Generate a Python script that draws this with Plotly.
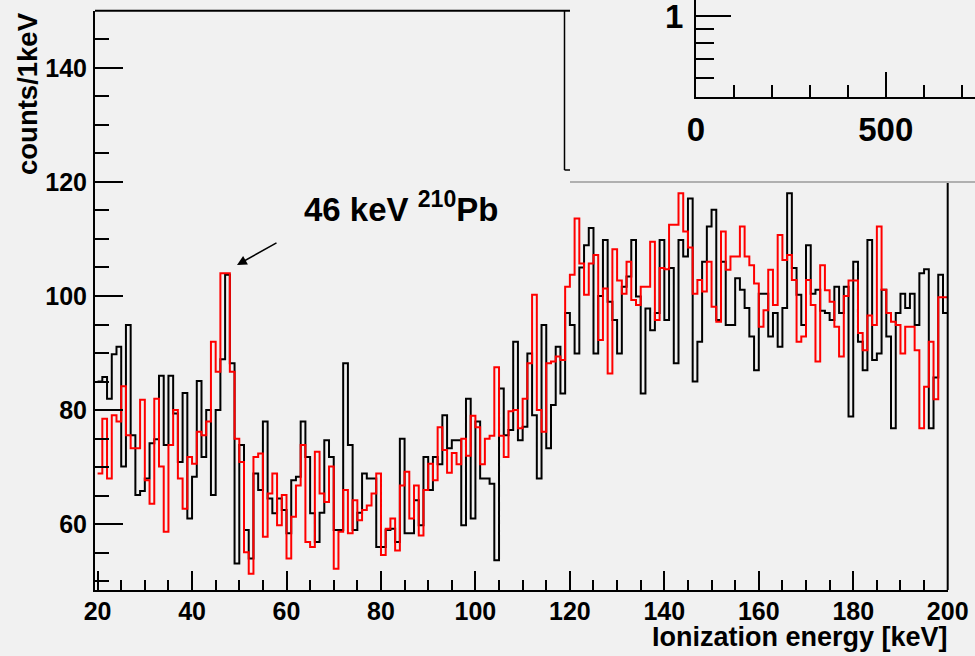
import plotly.graph_objects as go

# ---------------- data (1 keV bins, left edges 20..199) ----------------
bin_left = list(range(20, 200))
bin_width = 1

black_counts = [
    85.0, 85.8, 82.0, 89.8, 91.1, 70.1, 94.9, 75.6, 65.1, 65.8,   # 20-29
    68.0, 74.2, 74.9, 86.0, 73.9, 86.0, 79.4, 70.9, 83.0, 61.0,   # 30-39
    68.3, 85.1, 71.8, 80.0, 65.1, 80.0, 88.9, 103.7, 88.2, 53.1,  # 40-49
    73.9, 59.0, 54.0, 68.9, 66.0, 78.0, 64.5, 61.9, 64.5, 62.5,   # 50-59
    58.4, 67.7, 68.3, 78.0, 71.8, 61.9, 56.9, 62.0, 74.7, 71.8,   # 60-69
    59.0, 59.0, 88.2, 73.9, 59.0, 62.0, 68.9, 68.0, 68.0, 56.0,   # 70-79
    56.0, 59.0, 59.2, 56.9, 75.0, 58.4, 58.4, 64.2, 59.8, 71.8,   # 80-89
    66.0, 71.8, 70.5, 79.1, 73.3, 74.7, 74.7, 59.8, 82.0, 61.0,   # 90-99
    78.0, 68.0, 68.0, 67.1, 53.7, 83.8, 75.6, 76.5, 92.0, 74.7,   # 100-109
    77.1, 89.9, 79.1, 68.0, 94.9, 73.3, 80.9, 91.1, 82.9, 97.0,   # 110-119
    94.9, 89.9, 105.0, 108.9, 111.9, 89.9, 100.0, 109.8, 99.0, 95.8,  # 120-129
    89.9, 101.6, 103.4, 109.8, 99.9, 82.9, 97.8, 94.0, 97.0, 109.8,   # 130-139
    95.8, 104.9, 88.2, 109.8, 106.9, 117.1, 85.0, 92.0, 106.0, 112.2, # 140-149
    115.1, 95.8, 106.0, 94.9, 94.9, 103.1, 101.1, 97.9, 92.9, 87.0,   # 150-159
    100.4, 100.4, 92.9, 97.0, 91.1, 97.9, 118.0, 104.9, 100.2, 94.9,  # 160-169
    108.9, 100.4, 101.1, 97.4, 97.0, 95.8, 101.6, 97.0, 101.6, 78.9,  # 170-179
    106.0, 92.0, 87.0, 109.8, 88.8, 89.9, 101.1, 92.9, 76.8, 97.0,    # 180-189
    100.4, 97.9, 100.4, 94.9, 104.0, 104.7, 76.8, 85.7, 103.7, 97.0,  # 190-199
]

red_counts = [
    68.9, 78.5, 68.0, 79.1, 78.0, 84.2, 75.6, 73.3, 73.3, 81.8,   # 20-29
    67.7, 63.6, 82.0, 70.1, 58.7, 73.9, 80.0, 68.0, 62.7, 71.8,   # 30-39
    70.6, 76.2, 75.6, 78.0, 92.0, 86.7, 104.0, 104.0, 86.7, 75.0, # 40-49
    70.9, 55.1, 51.3, 71.8, 72.4, 57.8, 65.4, 68.9, 59.8, 65.1,   # 50-59
    54.0, 61.3, 66.8, 73.9, 56.9, 56.0, 72.7, 65.4, 63.9, 70.1,   # 60-69
    52.2, 58.7, 66.0, 58.4, 64.2, 60.7, 62.5, 63.3, 65.4, 68.9,   # 70-79
    54.6, 59.2, 61.0, 55.4, 66.8, 69.2, 61.0, 66.8, 58.0, 66.0,   # 80-89
    70.6, 67.7, 77.0, 73.0, 69.0, 72.5, 70.5, 75.0, 72.0, 79.0,   # 90-99
    77.0, 70.5, 75.0, 75.5, 87.5, 75.5, 71.8, 79.8, 80.0, 76.8,   # 100-109
    82.0, 88.2, 100.2, 80.0, 76.2, 88.2, 88.5, 89.4, 88.8, 101.6, # 110-119
    103.7, 113.6, 105.7, 100.2, 105.7, 107.2, 92.3, 101.3, 86.4, 108.2,  # 120-129
    102.7, 100.4, 106.0, 99.3, 98.4, 101.6, 101.6, 109.5, 95.8, 104.9,   # 130-139
    104.7, 112.5, 112.5, 118.0, 111.3, 108.5, 100.4, 102.8, 100.8, 106.0, # 140-149
    98.1, 95.5, 111.3, 104.6, 106.9, 106.9, 112.2, 106.9, 105.4, 102.2,  # 150-159
    94.6, 97.5, 104.6, 98.4, 110.7, 106.3, 107.2, 102.8, 92.0, 92.9,     # 160-169
    102.8, 98.4, 88.5, 105.4, 101.0, 99.0, 94.6, 89.4, 100.0, 102.7,     # 170-179
    102.7, 93.5, 90.5, 96.6, 94.9, 112.2, 101.1, 97.0, 95.5, 94.9,       # 180-189
    89.9, 94.6, 94.6, 90.5, 76.8, 84.1, 92.0, 81.9, 99.8, 99.8,          # 190-199
]

x_tick_vals = [20, 40, 60, 80, 100, 120, 140, 160, 180, 200]
y_tick_vals = [60, 80, 100, 120, 140]
inset_x_ticks = [0, 500, 1000]
inset_y_ticks = [1]

# ---------------- figure ----------------
W, H = 975, 656
BG = "#f1f1f1"
FONT = "Liberation Sans, Arial, Helvetica, sans-serif"

def px(x):
    return x / W

def py(y):
    return 1 - y / H

# step outlines: bin left edges plus the final right edge
edges = bin_left + [bin_left[-1] + bin_width]

fig = go.Figure()
fig.add_trace(go.Scatter(
    x=edges, y=black_counts + [black_counts[-1]],
    mode="lines", line=dict(color="black", width=2, shape="hv"),
    showlegend=False, hoverinfo="skip"))
fig.add_trace(go.Scatter(
    x=edges, y=red_counts + [red_counts[-1]],
    mode="lines", line=dict(color="#ff0000", width=2, shape="hv"),
    showlegend=False, hoverinfo="skip"))

# empty trace to instantiate the inset axes
fig.add_trace(go.Scatter(x=[None], y=[None], xaxis="x2", yaxis="y2",
                         mode="lines", showlegend=False, hoverinfo="skip"))

x_left, x_right = 95.0, 947.7
y_top, y_bot = 10.7, 590.0

tick_font = dict(size=25, family=FONT, color="black", weight="bold")
inset_font = dict(size=33, family=FONT, color="black", weight="bold")

fig.update_layout(
    width=W, height=H,
    margin=dict(l=0, r=0, t=0, b=0),
    template="none",
    paper_bgcolor=BG, plot_bgcolor=BG,
    showlegend=False,
    font=dict(family=FONT, color="black"),
    xaxis=dict(
        domain=[px(x_left), px(x_right)],
        range=[19.45, 200],
        showgrid=False, zeroline=False, automargin=False,
        showline=True, linecolor="black", linewidth=2,
        ticks="inside", ticklen=19, tickwidth=1.5, tickcolor="black",
        tickmode="array", tickvals=x_tick_vals,
        tickfont=tick_font, ticklabeloverflow="allow",
        ticklabelstandoff=-2,
        minor=dict(ticks="inside", ticklen=10, tickwidth=1.5,
                   tickcolor="black", dtick=5, tick0=0, showgrid=False),
        anchor="y",
    ),
    yaxis=dict(
        domain=[py(y_bot), py(y_top)],
        range=[48.47, 150],
        showgrid=False, zeroline=False, automargin=False,
        showline=True, linecolor="black", linewidth=2,
        ticks="inside", ticklen=28, tickwidth=1.5, tickcolor="black",
        tickmode="array", tickvals=y_tick_vals,
        tickfont=tick_font, ticklabeloverflow="allow",
        ticklabelstandoff=1,
        minor=dict(ticks="inside", ticklen=14, tickwidth=1.5,
                   tickcolor="black", dtick=5, tick0=0, showgrid=False),
        anchor="x",
    ),
    xaxis2=dict(
        domain=[px(696), 1.0],
        range=[0, 735],
        anchor="y2",
        showgrid=False, zeroline=False, automargin=False,
        showline=True, linecolor="black", linewidth=2,
        ticks="inside", ticklen=25, tickwidth=1.5, tickcolor="black",
        tickmode="array", tickvals=inset_x_ticks,
        tickfont=inset_font, ticklabeloverflow="allow",
        ticklabelstandoff=2,
        minor=dict(ticks="inside", ticklen=12, tickwidth=1.5,
                   tickcolor="black", dtick=100, tick0=0, showgrid=False),
    ),
    yaxis2=dict(
        domain=[py(97.3), 1.0],
        type="log",
        range=[-0.2924, 0.0577],
        anchor="x2",
        showgrid=False, zeroline=False, automargin=False,
        showline=True, linecolor="black", linewidth=2,
        ticks="inside", ticklen=35, tickwidth=1.5, tickcolor="black",
        tickmode="array", tickvals=inset_y_ticks, ticktext=["1"],
        tickfont=inset_font, ticklabeloverflow="allow",
        ticklabelstandoff=4,
        minor=dict(ticks="inside", ticklen=18, tickwidth=1.5,
                   tickcolor="black", tickvals=[0.6, 0.7, 0.8, 0.9],
                   showgrid=False),
    ),
)

shapes = [
    # top frame (visible part)
    dict(type="line", xref="paper", yref="paper",
         x0=px(x_left), x1=px(570), y0=py(y_top), y1=py(y_top),
         line=dict(color="black", width=2)),
    # right frame (visible part)
    dict(type="line", xref="paper", yref="paper",
         x0=px(x_right), x1=px(x_right), y0=py(183), y1=py(y_bot),
         line=dict(color="black", width=2)),
    # bracket left of the inset
    dict(type="line", xref="paper", yref="paper",
         x0=px(564.5), x1=px(564.5), y0=py(y_top), y1=py(170),
         line=dict(color="black", width=1.5)),
    dict(type="line", xref="paper", yref="paper",
         x0=px(564.5), x1=px(570), y0=py(170), y1=py(170),
         line=dict(color="black", width=1.5)),
    # inset pad bottom border
    dict(type="line", xref="paper", yref="paper",
         x0=px(570), x1=1.0, y0=py(182), y1=py(182),
         line=dict(color="#9a9a9a", width=1.5)),
]
fig.update_layout(shapes=shapes)

annotations = [
    dict(text="Ionization energy [keV]", xref="paper", yref="paper",
         x=px(950), y=py(637), xanchor="right", yanchor="middle",
         showarrow=False,
         font=dict(size=27, family=FONT, color="black", weight="bold")),
    dict(text="counts/1keV", xref="paper", yref="paper",
         x=px(27), y=py(94), xanchor="center", yanchor="middle",
         textangle=-90, showarrow=False,
         font=dict(size=27.5, family=FONT, color="black", weight="bold")),
    dict(text="<b>46 keV <sup>210</sup>Pb</b>", xref="paper", yref="paper",
         x=px(302), y=py(207), xanchor="left", yanchor="middle",
         showarrow=False, font=dict(size=33, family=FONT, color="black")),
    dict(text="", xref="paper", yref="paper",
         x=px(237), y=py(265), showarrow=True,
         ax=41, ay=-23, arrowhead=2, arrowsize=1.3, arrowwidth=1.5,
         arrowcolor="black", standoff=0),
]
fig.update_layout(annotations=annotations)

fig.write_html(
    "out.html",
    config={"displayModeBar": False},
    post_script=("document.body.style.margin='0';"
                 "document.body.style.padding='0';"
                 "document.body.style.background='%s';"
                 "document.documentElement.style.background='%s';") % (BG, BG),
)
